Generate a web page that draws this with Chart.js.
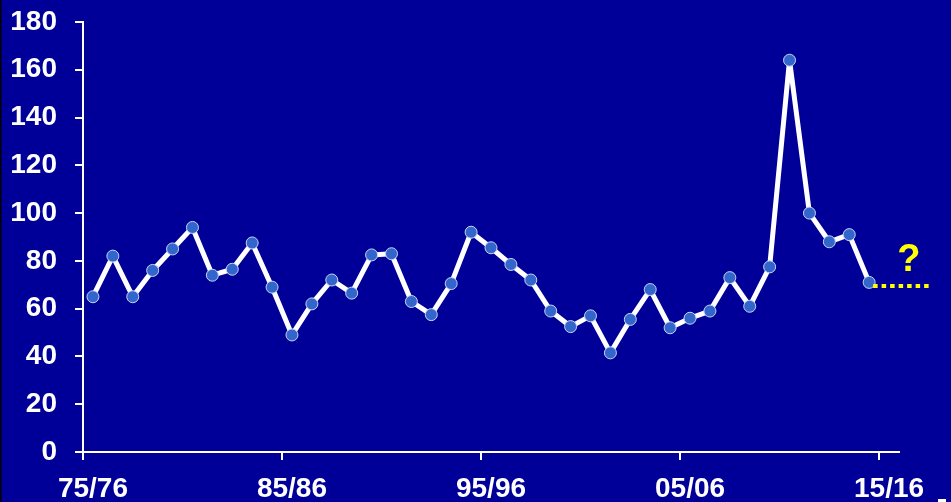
<!DOCTYPE html>
<html>
<head>
<meta charset="utf-8">
<script src="https://cdn.jsdelivr.net/npm/chart.js@4/dist/chart.umd.min.js"></script>
<style>
  html, body { margin: 0; padding: 0; background: #000099; }
  #wrap { position: relative; width: 951px; height: 502px; background: #000099; overflow: hidden; }
  #edge { position: absolute; left: 0; top: 0; width: 2px; height: 502px; background: linear-gradient(to right, #000000, #000055); }
  #mark { position: absolute; left: 938px; top: 499px; width: 8px; height: 3px; background: #ffffff; }
  canvas { position: absolute; left: 0; top: 0; }
</style>
</head>
<body>
<div id="wrap">
  <canvas id="c" width="951" height="502"></canvas>
  <div id="edge"></div>
  <div id="mark"></div>
</div>
<script>
// Seasons 75/76 ... 15/16
const categories = [
  '75/76','76/77','77/78','78/79','79/80','80/81','81/82','82/83','83/84','84/85',
  '85/86','86/87','87/88','88/89','89/90','90/91','91/92','92/93','93/94','94/95',
  '95/96','96/97','97/98','98/99','99/00','00/01','01/02','02/03','03/04','04/05',
  '05/06','06/07','07/08','08/09','09/10','10/11','11/12','12/13','13/14','14/15',
  '15/16'
];
const values = [
  65, 82, 65, 76, 85, 94, 74, 76.5, 87.5, 69,
  49, 62, 72, 66.5, 82.5, 83, 63, 57.5, 70.5, 92,
  85.5, 78.5, 72, 59, 52.5, 57, 41.5, 55.5, 68, 52,
  56, 59, 73, 61, 77.5, 164, 100, 88, 91, 71,
  null
];
const labeledTicks = ['75/76','85/86','95/96','05/06','15/16'];
const yTicks = [0, 20, 40, 60, 80, 100, 120, 140, 160, 180];
// dotted "unknown" continuation and the question mark
const forecastFrom = 39.2;   // category index position
const forecastTo = 42.15;
const forecastValue = 69.5;
const questionMark = '?';
const questionIndex = 41;
const questionValue = 80;

const annotate = {
  id: 'annotate',
  afterDatasetsDraw(chart) {
    const ctx = chart.ctx;
    const xs = chart.scales.x, ys = chart.scales.y;
    ctx.save();
    ctx.strokeStyle = '#FFFF00';
    ctx.lineWidth = 4;
    ctx.setLineDash([4.5, 4]);
    const yy = ys.getPixelForValue(forecastValue);
    ctx.beginPath();
    ctx.moveTo(xs.getPixelForValue(forecastFrom), yy);
    ctx.lineTo(xs.getPixelForValue(forecastTo), yy);
    ctx.stroke();
    ctx.setLineDash([]);
    ctx.fillStyle = '#FFFF00';
    ctx.font = 'bold 38px "Liberation Sans", Arial, sans-serif';
    ctx.textAlign = 'center';
    ctx.textBaseline = 'middle';
    ctx.fillText(questionMark, xs.getPixelForValue(questionIndex), ys.getPixelForValue(questionValue));
    ctx.restore();
  }
};

new Chart(document.getElementById('c'), {
  type: 'line',
  data: {
    labels: categories,
    datasets: [{
      data: values,
      borderColor: '#ffffff',
      borderWidth: 5,
      borderJoinStyle: 'round',
      pointRadius: 6,
      pointBackgroundColor: '#3366CC',
      pointBorderColor: '#C8D4F0',
      pointBorderWidth: 1,
      tension: 0,
      clip: false
    }]
  },
  options: {
    responsive: false,
    animation: false,
    events: [],
    layout: { padding: { top: 22, right: 52, left: 0, bottom: 0 } },
    plugins: { legend: { display: false }, tooltip: { enabled: false } },
    scales: {
      x: {
        offset: true,
        afterFit(s) { s.height = 50; s.paddingLeft = 0; s.paddingRight = 0; },
        grid: {
          offset: true,
          drawOnChartArea: false,
          drawTicks: true,
          tickLength: 8,
          lineWidth: 2,
          color: (c) => (c.index !== undefined && labeledTicks.includes(categories[c.index])) ? '#ffffff' : 'rgba(0,0,0,0)'
        },
        border: { display: true, color: '#ffffff', width: 2 },
        ticks: {
          autoSkip: false,
          maxRotation: 0,
          padding: 12,
          color: '#ffffff',
          font: { family: '"Liberation Sans", Arial, sans-serif', size: 28, weight: 'bold' },
          callback: (v, i) => labeledTicks.includes(categories[i]) ? categories[i] : ''
        }
      },
      y: {
        min: 0,
        max: 180,
        afterFit(s) { s.width = 83; s.paddingTop = 0; s.paddingBottom = 0; },
        afterBuildTicks(s) { s.ticks = yTicks.map(v => ({ value: v })); },
        grid: {
          drawOnChartArea: false,
          drawTicks: true,
          tickLength: 8,
          lineWidth: 2,
          color: '#ffffff'
        },
        border: { display: true, color: '#ffffff', width: 2 },
        ticks: {
          padding: 18,
          color: '#ffffff',
          font: { family: '"Liberation Sans", Arial, sans-serif', size: 28, weight: 'bold' }
        }
      }
    }
  },
  plugins: [annotate]
});
</script>
</body>
</html>
